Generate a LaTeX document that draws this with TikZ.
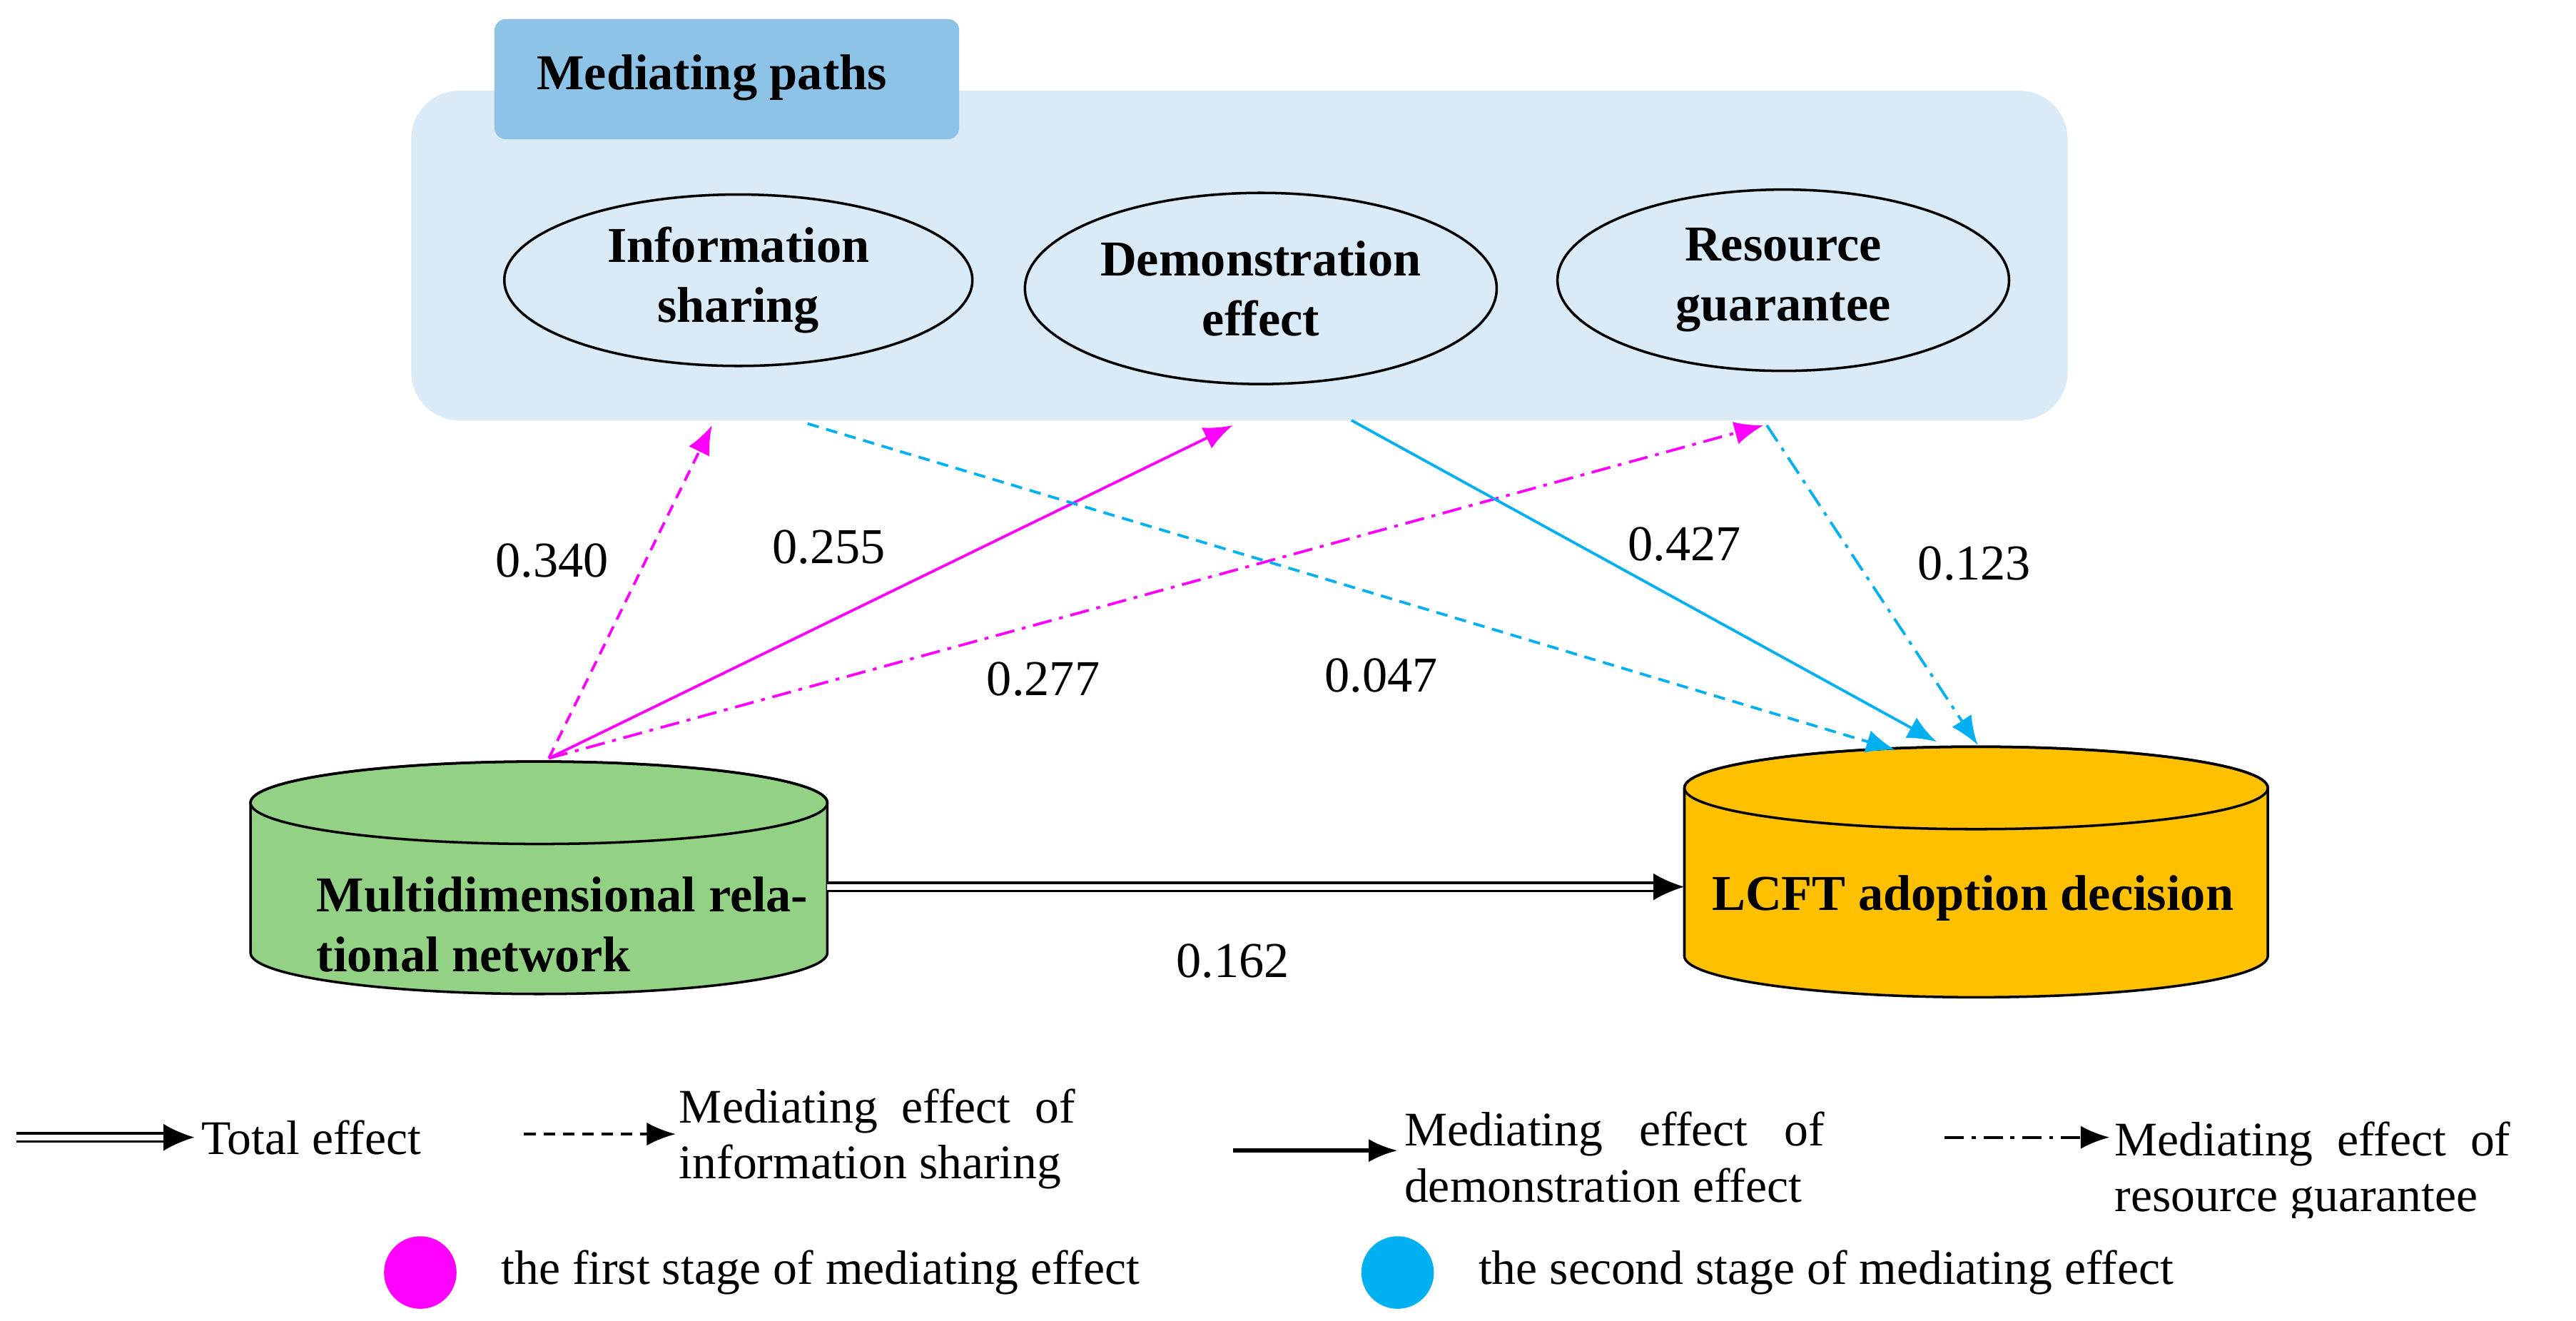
\documentclass[tikz,border=0pt]{standalone}
\usepackage{fontspec}
\setmainfont{Liberation Serif}
\usetikzlibrary{shapes.geometric,arrows.meta}
\definecolor{bgblue}{RGB}{218,234,247}
\definecolor{tabblue}{RGB}{142,195,232}
\definecolor{cgreen}{RGB}{147,210,132}
\definecolor{corange}{RGB}{255,192,0}
\definecolor{ccyan}{RGB}{0,176,240}
\definecolor{cmag}{RGB}{255,0,255}
\begin{document}
\begin{tikzpicture}[x=0.03cm,y=-0.03cm,
  lbl/.style={font=\fontsize{26}{31}\selectfont\bfseries,align=center},
  num/.style={font=\fontsize{26}{31}\selectfont},
  leg/.style={font=\fontsize{25}{29}\selectfont,align=left,anchor=west},
  ell/.style={ellipse,draw,line width=1.3pt,minimum width=#1},
  arr/.style={-{Latex[length=15pt,width=12pt]},line width=1.4pt},
  dsh/.style={dash pattern=on 6pt off 4pt},
  ddt/.style={dash pattern=on 10pt off 4pt on 2pt off 4pt},
  cylp/.style={draw,line width=1.3pt}]
\useasboundingbox (0,0) rectangle (1563,801);
\node[fill=bgblue,rounded corners=25pt,minimum width=1005*0.03cm,minimum height=200*0.03cm] (bg) at (752,155) {};
\node[fill=tabblue,rounded corners=6pt,minimum width=282*0.03cm,minimum height=73*0.03cm] (tab) at (441,48) {};
\node[lbl] (tabt) at (432,47) {Mediating paths};
\node[ell=284*0.03cm,minimum height=104*0.03cm,lbl] (info) at (448,170) {Information\\sharing};
\node[ell=280*0.03cm,minimum height=116*0.03cm,lbl] (demo) at (765,175) {Demonstration\\effect};
\node[ell=274*0.03cm,minimum height=110*0.03cm,lbl] (res) at (1082,170) {Resource\\guarantee};
% cylinders
\path[cylp,fill=cgreen] (152,487) -- (152,578) arc[start angle=180,end angle=0,x radius=175,y radius=25] -- (502,487) arc[start angle=0,end angle=-180,x radius=175,y radius=25];
\draw[line width=1.3pt] (327,487) ellipse[x radius=175,y radius=25];
\node[lbl,align=left,anchor=west] (mrnt) at (188,561) {Multidimensional rela-\\tional network};
\path[cylp,fill=corange] (1022,478) -- (1022,580) arc[start angle=180,end angle=0,x radius=177,y radius=25] -- (1376,478) arc[start angle=0,end angle=-180,x radius=177,y radius=25];
\draw[line width=1.3pt] (1199,478) ellipse[x radius=177,y radius=25];
\node[lbl] (lcftt) at (1197,545) {LCFT adoption decision};
\coordinate (s) at (333,460);
\coordinate (e1) at (432,258); \coordinate (e2) at (748,258); \coordinate (e3) at (1070,258);
\coordinate (c1) at (490,257); \coordinate (c2) at (820,255); \coordinate (c3) at (1072,258);
\coordinate (t1) at (1150,455); \coordinate (t2) at (1175,450); \coordinate (t3) at (1200,452);
\draw[arr,cmag,dsh] (s) -- (e1);
\draw[arr,cmag] (s) -- (e2);
\draw[arr,cmag,ddt] (s) -- (e3);
\draw[arr,ccyan,dsh] (c1) -- (t1);
\draw[arr,ccyan] (c2) -- (t2);
\draw[arr,ccyan,ddt] (c3) -- (t3);
\coordinate (d1) at (502,538); \coordinate (d2) at (1022,538);
\draw[line width=1.2pt,double distance=3pt,-{Latex[length=16pt,width=14pt]}] (d1) -- (d2);
\node[num] at (335,340) {0.340};
\node[num] at (503,332) {0.255};
\node[num] at (633,412) {0.277};
\node[num] at (838,410) {0.047};
\node[num] at (1022,330) {0.427};
\node[num] at (1198,342) {0.123};
\node[num] at (748,583) {0.162};
% legend
\coordinate (l1a) at (10,690); \coordinate (l1b) at (118,690);
\draw[line width=1.2pt,double distance=3pt,-{Latex[length=16pt,width=14pt]}] (l1a) -- (l1b);
\node[leg] at (118,690) {Total effect};
\coordinate (l2a) at (318,688); \coordinate (l2b) at (410,688);
\draw[arr,dsh] (l2a) -- (l2b);
\node[leg] at (408,691) {Mediating\ \ effect\ \ of\\information sharing};
\coordinate (l3a) at (748,698); \coordinate (l3b) at (848,698);
\draw[arr,line width=2pt] (l3a) -- (l3b);
\node[leg] at (848,702) {Mediating\ \ \ effect\ \ \ of\\demonstration effect};
\coordinate (l4a) at (1180,690); \coordinate (l4b) at (1280,690);
\draw[arr,ddt] (l4a) -- (l4b);
\begin{scope}
\clip (1270,660) rectangle (1563,739);
\node[leg] at (1279,711) {Mediating\ \ effect\ \ of\\resource guarantee};
\end{scope}
\node[circle,fill=cmag,minimum size=44*0.03cm] (m1) at (255,772) {};
\node[leg] at (300,772) {the first stage of mediating effect};
\node[circle,fill=ccyan,minimum size=44*0.03cm] (m2) at (848,772) {};
\node[leg] at (893,772) {the second stage of mediating effect};
\end{tikzpicture}
\end{document}
